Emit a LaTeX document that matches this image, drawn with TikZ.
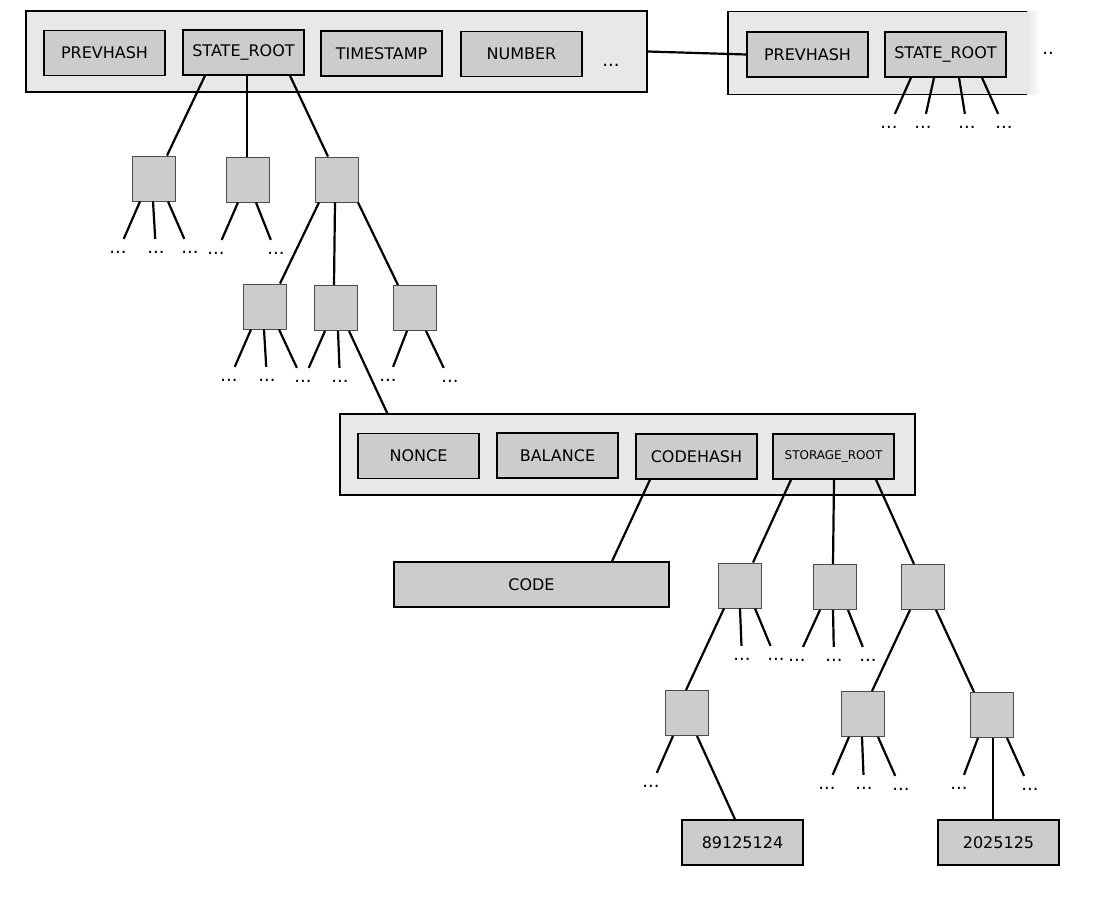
\documentclass[tikz,border=0pt]{standalone}
\usepackage{fontspec}
\setmainfont{DejaVu Sans}
\definecolor{fieldgray}{HTML}{CCCCCC}
\definecolor{blockgray}{HTML}{E8E8E8}
\definecolor{trieborder}{HTML}{4D4D4D}
\newcommand{\labelfont}{\fontsize{16}{19}\selectfont}
\newcommand{\smalllabelfont}{\fontsize{12}{14}\selectfont}
\newcommand{\dotsfont}{\fontsize{18}{20}\selectfont}

\begin{document}
\begin{tikzpicture}
		[x=1pt, y=-1pt,
		block/.style={draw, fill=blockgray, line width=1.4pt, inner sep=0pt},
		field/.style={draw, fill=fieldgray, line width=1.4pt, minimum width=121, minimum height=45, inner sep=0pt, font=\labelfont},
		trie node/.style={draw=trieborder, fill=fieldgray, line width=0.9pt, minimum width=43, minimum height=45, inner sep=0pt},
		ellip/.style={inner sep=0pt, outer sep=12pt, font=\dotsfont},
		every edge/.style={draw, line width=2.2pt}]
		\useasboundingbox (0,0) rectangle (1100,899);

		% block header
		\node[block, minimum width=621, minimum height=81] (header) at (336.5,51.5) {};
		\node[field] (prevhash) at (104.5,53) {PREVHASH};
		\node[field] (stateroot) at (243.5,52.5) {STATE\_ROOT};
		\node[field] (timestamp) at (381.5,53.5) {TIMESTAMP};
		\node[field] (number) at (521.5,54) {NUMBER};
		\node[ellip] (headerdots) at (611,65) {...};

		% next block header (cut off on the right)
		\node[fill=blockgray, minimum width=299, minimum height=82, inner sep=0pt] (nextheader) at (877.5,53) {};
		\shade[left color=blockgray, right color=white] (nextheader.north east) rectangle ([xshift=13]nextheader.south east);
		\draw[line width=1.4pt] (nextheader.north east) -- (nextheader.north west) -- (nextheader.south west) -- (nextheader.south east);
		\node[field] (prevhash2) at (807.5,54.5) {PREVHASH};
		\node[field] (stateroot2) at (945.5,54.5) {STATE\_ROOT};
		\node[ellip] (nextdots) at (1048,53) {..};

		% account
		\node[block, minimum width=575, minimum height=81] (account) at (627.5,454.5) {};
		\node[field] (nonce) at (418.5,456) {NONCE};
		\node[field] (balance) at (557.5,455.5) {BALANCE};
		\node[field] (codehash) at (696.5,456.5) {CODEHASH};
		\node[field, font=\smalllabelfont] (storageroot) at (833.5,456.5) {STORAGE\_ROOT};
		\node[field, minimum width=275] (code) at (531.5,584.5) {CODE};

		% values
		\node[field] (value1) at (742.5,842.5) {89125124};
		\node[field] (value2) at (998.5,842.5) {2025125};

		% trie nodes
		\foreach \name/\x/\y in {n1/154/178.5, n2/248/179.5, n3/337/179.5,
			m1/265/306.5, m2/336/308, m3/415/308,
			s1/740/585.5, s2/834.5/587, s3/923/587,
			s4/687/713, s5/863/714, s6/992/715}{
			\node[trie node] (\name) at (\x,\y) {};
		}

		% dots below the tries
		\foreach \name/\x/\y in {d1/118/252, d2/156/252, d3/190/252, d4/216/253, d5/276/253,
			d6/229/380, d7/267/380, d8/303/381, d9/340/381, d10/388/380, d11/450/381,
			r1/889/127, r2/923/127, r3/967/127, r4/1004/127,
			e1/742/659, e2/776/659, e3/797/660, e4/834/660, e5/868/660,
			e6/651/786, e7/827/788, e8/864/788, e9/901/789, e10/959/788, e11/1030/789}{
			\node[ellip] (\name) at (\x,\y) {...};
		}

		\path (header.east) edge (prevhash2.west);
		\path ([xshift=13]m2.south) edge ([xshift=48]account.north west);
		\path ([xshift=-46.5]codehash.south) edge ([xshift=80.5]code.north);

		\foreach \p/\a/\c/\b in {stateroot/-38.5/n1/13, stateroot/3.5/n2/-1, stateroot/46.5/n3/-9,
			n3/-18/m1/15, n3/-2/m2/-2, n3/21/m3/-17,
			storageroot/-42.5/s1/13, storageroot/0.5/s2/-1.5, storageroot/42.5/s3/-9,
			s1/-16/s4/-1, s3/-13/s5/9, s3/13/s6/-18,
			s4/10/value1/-7.5, s6/1/value2/-5.5}{
			\path ([xshift=\a]\p.south) edge ([xshift=\b]\c.north);
		}

		\foreach \p/\a/\d in {stateroot2/-34.5/r1, stateroot2/-11.5/r2, stateroot2/13.5/r3, stateroot2/36.5/r4,
			n1/-14/d1, n1/-1/d2, n1/14/d3, n2/-10/d4, n2/8/d5,
			m1/-14/d6, m1/-1/d7, m1/14/d8, m2/-11/d8, m2/2/d9, m3/-8/d10, m3/11/d11,
			s1/0/e1, s1/15/e2, s2/-14.5/e3, s2/-1.5/e4, s2/13.5/e5,
			s4/-14/e6, s5/-14/e7, s5/-1/e8, s5/15/e9, s6/-14/e10, s6/15/e11}{
			\path ([xshift=\a]\p.south) edge (\d);
		}
\end{tikzpicture}
\end{document}
